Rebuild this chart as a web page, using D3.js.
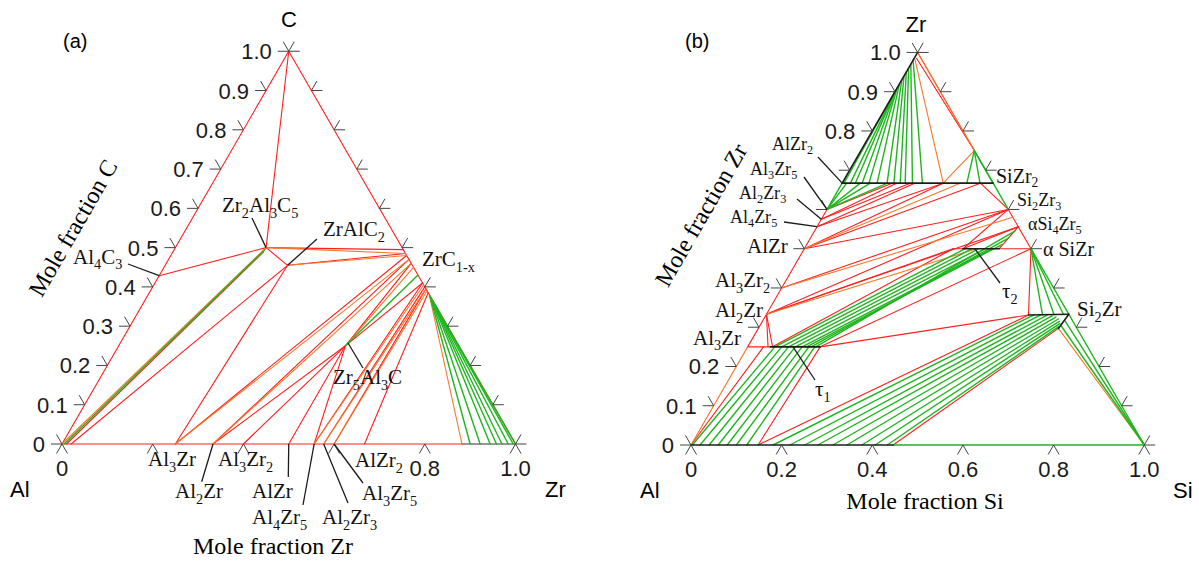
<!DOCTYPE html>
<html><head><meta charset="utf-8">
<script src="https://cdn.jsdelivr.net/npm/d3@7"></script>
<style>body{margin:0;background:#fff}</style>
</head><body>
<svg id="chart" width="1199" height="562"></svg>
<script>
// ================= DATA =================
// Diagram (a) Al–Zr–C : points are [xZr, xC]
const redLinesA = [
  [[0,0],[0,1]], [[0,1],[1,0]], [[0,0],[0.882,0]],
  [[0.2,0.5],[0,1]], [[0,0.4286],[0.2,0.5]], [[0.2,0.5],[0.505,0.495]],
  [[0.2,0.5],[0.27,0.455]], [[0.27,0.455],[0.515,0.485]], [[0.27,0.455],[0.25,0]],
  [[0.27,0.455],[0.02,0]], [[0.25,0],[0.52,0.48]], [[0.333,0],[0.53,0.47]],
  [[0.333,0],[0.5,0.25]], [[0.4,0],[0.5,0.25]], [[0.5,0],[0.5,0.25]],
  [[0.556,0],[0.5,0.25]], [[0.5,0.25],[0.54,0.46]], [[0.5,0.25],[0.59,0.41]],
  [[0.556,0],[0.59,0.41]], [[0.577,0],[0.6,0.4]], [[0.6,0],[0.605,0.395]],
  [[0.667,0],[0.615,0.385]], [[0.01,0],[0.2,0.49]]
];
const orangeLinesA = [
  [[0,0],[0.2,0.5]], [[0.2,0.5],[0.515,0.485]], [[0.27,0.455],[0.52,0.48]],
  [[0.25,0],[0.53,0.47]], [[0.333,0],[0.54,0.46]], [[0.5,0.25],[0.55,0.45]],
  [[0.556,0],[0.595,0.405]], [[0.577,0],[0.605,0.395]], [[0.6,0],[0.61,0.39]],
  [[0.62,0.38],[0.882,0]], [[0.62,0.38],[1,0]]
];
const greenLinesA = [
  [[0.005,0],[0.2,0.495]], [[0.5,0.25],[0.57,0.43]],
  [[0.622,0.378],[0.9,0]], [[0.624,0.376],[0.922,0]], [[0.627,0.373],[0.944,0]],
  [[0.63,0.37],[0.958,0]], [[0.634,0.366],[0.97,0]], [[0.638,0.362],[0.984,0]],
  [[0.643,0.357],[0.995,0]], [[0.648,0.352],[1,0]]
];
const greyLinesA = [[[0.882,0],[1,0]]];
const leftTickValuesA = [0,0.1,0.2,0.3,0.4,0.5,0.6,0.7,0.8,0.9,1.0];
const leftTickLabelsA = ["0","0.1","0.2","0.3","0.4","0.5","0.6","0.7","0.8","0.9","1.0"];
const rightTickValuesA = [0,0.1,0.2,0.3,0.4,0.5,0.6,0.7,0.8,0.9,1.0];
const bottomTickValuesA = [0,0.2,0.4,0.6,0.8,1.0];
const bottomTickLabelsA = ["0","","","","0.8","1.0"];
const phaseNamesA = ["Zr_2Al_3C_5","ZrAlC_2","ZrC_{1-x}","Al_4C_3","Zr_5Al_3C","Al_3Zr","Al_3Zr_2",
                     "Al_2Zr","AlZr","Al_4Zr_5","Al_2Zr_3","Al_3Zr_5","AlZr_2"];
const phaseCompA = [[0.2,0.5],[0.27,0.455],[0.505,0.495],[0,0.4286],[0.5,0.25],[0.25,0],[0.4,0],
                    [0.333,0],[0.5,0],[0.556,0],[0.577,0],[0.6,0],[0.667,0]];

// Diagram (b) Al–Si–Zr : points are [xSi, xZr]
const blackLinesB = [
  [[0,0.667],[0,1]], [[0,0.667],[0.333,0.667]], [[0.05,0.25],[0.16,0.25]],
  [[0.35,0.5],[0.43,0.5]], [[0.579,0.331],[0.667,0.333]], [[0.667,0.333],[0.662,0.297]],
  [[0,0],[0.446,0]]
];
const redLinesB = [
  [[0,0.25],[0,0.6]], [[0,1],[0.25,0.75]], [[0.4,0.6],[0.5,0.5]],
  [[0,0.25],[0.05,0.25]], [[0,0.333],[0.045,0.25]], [[0,0.333],[0.055,0.25]],
  [[0,0],[0.035,0.25]], [[0.148,0],[0.16,0.25]], [[0.148,0],[0.579,0.331]],
  [[0.446,0],[0.662,0.297]], [[0.16,0.25],[0.579,0.331]], [[0.16,0.25],[0.5,0.5]],
  [[0.5,0.5],[0.579,0.331]], [[0.328,0.5],[0.35,0.5]], [[0.43,0.5],[0.5,0.5]],
  [[0.055,0.25],[0.328,0.5]], [[0,0.333],[0.328,0.5]], [[0,0.333],[0.4,0.6]],
  [[0,0.333],[0.444,0.556]], [[0,0.4],[0.4,0.6]], [[0,0.5],[0.4,0.6]],
  [[0,0.5],[0.305,0.667]], [[0,0.5],[0.223,0.667]], [[0,0.556],[0.223,0.667]],
  [[0,0.556],[0.16,0.667]], [[0,0.575],[0.15,0.667]], [[0,0.575],[0.12,0.667]],
  [[0,0.6],[0.11,0.667]], [[0.305,0.667],[0.4,0.6]], [[0.4,0.6],[0.35,0.5]],
  [[0.444,0.556],[0.35,0.5]], [[0.444,0.556],[0.43,0.5]], [[0.005,0.985],[0.25,0.75]]
];
const orangeLinesB = [
  [[0,0],[0,0.25]], [[0.003,0.982],[0.223,0.667]], [[0.25,0.75],[0.223,0.667]],
  [[0.662,0.297],[1,0]], [[0,0.5],[0.26,0.667]], [[0,0.4],[0.42,0.58]],
  [[0,0.333],[0.38,0.5]], [[0,1],[0.25,0.75]]
];
const greenLinesB = [
  [[0,0.6],[0,0.667]], [[0.25,0.75],[0.4,0.6]], [[0.5,0.5],[1,0]], [[0.446,0],[1,0]],
  [[0,0.902],[0.004,0.667]], [[0,0.902],[0.018,0.667]], [[0,0.902],[0.029,0.667]],
  [[0,0.905],[0.044,0.667]], [[0,0.91],[0.059,0.667]], [[0,0.92],[0.077,0.667]],
  [[0,0.93],[0.099,0.667]], [[0,0.94],[0.114,0.667]], [[0,0.95],[0.128,0.667]],
  [[0,0.96],[0.139,0.667]], [[0,0.97],[0.155,0.667]], [[0,0.98],[0.177,0.667]],
  [[0,0.6],[0.01,0.667]], [[0,0.6],[0.04,0.667]], [[0,0.6],[0.062,0.667]], [[0,0.6],[0.1,0.667]],
  [[0.25,0.75],[0.275,0.667]], [[0.25,0.75],[0.304,0.667]], [[0.25,0.75],[0.333,0.667]],
  [[0.003,0],[0.06,0.25]], [[0.02,0],[0.075,0.25]], [[0.04,0],[0.09,0.25]],
  [[0.06,0],[0.105,0.25]], [[0.08,0],[0.12,0.25]], [[0.1,0],[0.135,0.25]], [[0.123,0],[0.148,0.25]],
  [[0.06,0.25],[0.355,0.5]], [[0.075,0.25],[0.37,0.5]], [[0.09,0.25],[0.385,0.5]],
  [[0.105,0.25],[0.4,0.5]], [[0.12,0.25],[0.415,0.5]], [[0.13,0.25],[0.43,0.51]],
  [[0.14,0.25],[0.437,0.527]], [[0.15,0.25],[0.442,0.545]],
  [[0.181,0],[0.59,0.331]], [[0.218,0],[0.605,0.331]], [[0.251,0],[0.62,0.331]],
  [[0.28,0],[0.632,0.329]], [[0.313,0],[0.642,0.326]], [[0.344,0],[0.65,0.321]],
  [[0.377,0],[0.655,0.315]], [[0.406,0],[0.659,0.309]], [[0.433,0],[0.661,0.302]],
  [[0.5,0.5],[0.61,0.331]], [[0.5,0.5],[0.635,0.332]], [[0.5,0.5],[0.655,0.333]],
  [[0.665,0.318],[1,0]], [[0.663,0.305],[1,0]]
];
const leftTickValuesB = [0,0.1,0.2,0.3,0.4,0.5,0.6,0.7,0.8,0.9,1.0];
const leftTickLabelsB = ["0","0.1","0.2","","","","","","0.8","0.9","1.0"];
const rightTickValuesB = [0,0.1,0.2,0.3,0.4,0.5,0.6,0.7,0.8,0.9,1.0];
const bottomTickValuesB = [0,0.2,0.4,0.6,0.8,1.0];
const bottomTickLabelsB = ["0","0.2","0.4","0.6","0.8","1.0"];
const phaseNamesB = ["AlZr_2","Al_3Zr_5","Al_2Zr_3","Al_4Zr_5","AlZr","Al_3Zr_2","Al_2Zr","Al_3Zr",
                     "SiZr_2","Si_2Zr_3","αSi_4Zr_5","α SiZr","τ_2","Si_2Zr","τ_1"];
const phaseCompB = [[0,0.667],[0,0.6],[0,0.575],[0,0.556],[0,0.5],[0,0.4],[0,0.333],[0,0.25],
                    [0.333,0.667],[0.4,0.6],[0.444,0.556],[0.5,0.5],[0.376,0.5],[0.667,0.333],[0.1,0.25]];

// ================= DRAWING =================
const svg = d3.select('#chart');
const SQ = Math.sqrt(3) / 2;
const SANS = '"Liberation Sans", Arial, sans-serif';
const SERIF = '"Liberation Serif", "Times New Roman", serif';
const COL = {red:'#ff1f1f', orange:'#f47a2a', green:'#1fb51f', black:'#1c1c1c', grey:'#777', tick:'#444'};

function makeTernary(x0, base, W) {
  const sx = d3.scaleLinear().domain([0, 1]).range([x0, x0 + W]);
  const sy = d3.scaleLinear().domain([0, 1]).range([base, base - W * SQ]);
  const p = c => [sx(c[0] + c[1] / 2), sy(c[1])];
  return {sx, sy, p};
}
const TA = makeTernary(62, 444, 453.5);
const TB = makeTernary(691, 445, 453.3);

function drawLines(g, T, data, color, w) {
  g.append('g').selectAll('line').data(data).join('line')
    .attr('x1', d => T.p(d[0])[0]).attr('y1', d => T.p(d[0])[1])
    .attr('x2', d => T.p(d[1])[0]).attr('y2', d => T.p(d[1])[1])
    .attr('stroke', color).attr('stroke-width', w).attr('stroke-linecap', 'round');
}

const L = 11;
function tickPath(P, dirs) {
  return dirs.map(d => `M${P[0]},${P[1]}l${d[0] * L},${d[1] * L}`).join('');
}
function drawTicks(g, T, leftVals, rightVals, bottomVals) {
  const tg = g.append('g').attr('fill', 'none').attr('stroke', COL.tick).attr('stroke-width', 1);
  tg.selectAll('path.l').data(leftVals).join('path').attr('class', 'l')
    .attr('d', v => tickPath(T.p([0, v]), [[-1, 0], [-0.5, -SQ]]));
  tg.selectAll('path.r').data(rightVals).join('path').attr('class', 'r')
    .attr('d', v => tickPath(T.p([1 - v, v]), [[1, 0], [0.5, -SQ]]));
  tg.selectAll('path.b').data(bottomVals).join('path').attr('class', 'b')
    .attr('d', v => tickPath(T.p([v, 0]), [[-0.5, SQ], [0.5, SQ]]));
}
function drawTickLabels(g, T, leftVals, leftLabels, bottomVals, bottomLabels) {
  g.append('g').selectAll('text').data(leftVals).join('text')
    .attr('x', v => T.p([0, v])[0] - 17).attr('y', v => T.p([0, v])[1] + 8)
    .attr('text-anchor', 'end').attr('font-family', SANS).attr('font-size', 22).attr('fill', '#1a1a1a')
    .text((v, i) => leftLabels[i]);
  g.append('g').selectAll('text').data(bottomVals).join('text')
    .attr('x', v => T.p([v, 0])[0]).attr('y', v => T.p([v, 0])[1] + 32)
    .attr('text-anchor', 'middle').attr('font-family', SANS).attr('font-size', 22).attr('fill', '#1a1a1a')
    .text((v, i) => bottomLabels[i]);
}
function richText(g, str, x, y, size, subK) {
  const t = g.append('text').attr('x', x).attr('y', y).attr('font-family', SERIF)
    .attr('font-size', size).attr('fill', '#111');
  const re = /_(\{[^}]*\}|[0-9]+)/g;
  let last = 0, m, off = 0;
  const sh = size * (subK || 0.3);
  while ((m = re.exec(str)) !== null) {
    if (m.index > last) { t.append('tspan').attr('dy', -off).text(str.slice(last, m.index)); off = 0; }
    const s = m[1].replace(/[{}]/g, '');
    t.append('tspan').attr('dy', sh - off).attr('font-size', size * 0.68).text(s);
    off = sh;
    last = re.lastIndex;
  }
  if (last < str.length) t.append('tspan').attr('dy', -off).text(str.slice(last));
}
function pointer(g, T, from, comp, toPx) {
  const to = toPx || T.p(comp);
  g.append('line').attr('x1', from[0]).attr('y1', from[1]).attr('x2', to[0]).attr('y2', to[1])
    .attr('stroke', COL.black).attr('stroke-width', 1.3);
}

// ---------- (a) ----------
const gA = svg.append('g');
drawLines(gA, TA, greyLinesA, COL.grey, 1.3);
drawLines(gA, TA, redLinesA, COL.red, 1.1);
drawLines(gA, TA, orangeLinesA, COL.orange, 1.1);
drawLines(gA, TA, greenLinesA, COL.green, 1.4);
drawTicks(gA, TA, leftTickValuesA, rightTickValuesA, bottomTickValuesA);
drawTickLabels(gA, TA, leftTickValuesA, leftTickLabelsA, bottomTickValuesA, bottomTickLabelsA);

const labelPosA = [[222,212],[323,236],[422,266],[73,264],[333,384],[148,466],[218,466],
                   [175,498],[252,498],[252,524],[322,524],[362,500],[355,467]];
const labelSubA = [0.3,0.3,0.3,0.22,0.3,0.3,0.3,0.3,0.3,0.3,0.3,0.3,0.3];
const pointerFromA = [[252,218],[317,239],null,[128,264],[363,368],null,null,
                      [201.7,481.7],[288.3,477],[303,505],[348,503],[363,483],null];
phaseNamesA.forEach((n, i) => {
  if (pointerFromA[i]) {
    const to = i === 4 ? [348, 343] : null;
    pointer(gA, TA, pointerFromA[i], phaseCompA[i], to);
  }
  richText(gA, n, labelPosA[i][0], labelPosA[i][1], 21, labelSubA[i]);
});
gA.append('text').attr('x', 63).attr('y', 48).attr('font-family', SANS).attr('font-size', 20).text('(a)');
gA.append('text').attr('x', 289).attr('y', 27).attr('text-anchor', 'middle').attr('font-family', SANS).attr('font-size', 22).text('C');
gA.append('text').attr('x', 10).attr('y', 497).attr('font-family', SANS).attr('font-size', 22).text('Al');
gA.append('text').attr('x', 545).attr('y', 497).attr('font-family', SANS).attr('font-size', 22).text('Zr');
gA.append('text').attr('x', 273).attr('y', 554).attr('text-anchor', 'middle').attr('font-family', SERIF).attr('font-size', 24).text('Mole fraction Zr');
gA.append('text').attr('transform', 'translate(80,232) rotate(-60)').attr('text-anchor', 'middle').attr('font-family', SERIF).attr('font-size', 24).text('Mole fraction C');

// ---------- (b) ----------
const gB = svg.append('g');
drawLines(gB, TB, redLinesB, COL.red, 1.1);
drawLines(gB, TB, orangeLinesB, COL.orange, 1.1);
drawLines(gB, TB, greenLinesB, COL.green, 1.4);
drawLines(gB, TB, blackLinesB, COL.black, 1.6);
drawTicks(gB, TB, leftTickValuesB, rightTickValuesB, bottomTickValuesB);
drawTickLabels(gB, TB, leftTickValuesB, leftTickLabelsB, bottomTickValuesB, bottomTickLabelsB);

const labelPosB = [[772,150],[750,175],[739,199],[730,223],[747,253],[715,287],[715,317],[693,345],
                   [996,183],[1017,206],[1028,230],[1043,256],[1002,298],[1077,316],[815,396]];
const labelSizeB = [18,18,18,18,21,21,21,21,20,18,18,20,21,21,21];
const labelSubB = [0.2,0.2,0.2,0.2,0.3,0.3,0.3,0.22,0.2,0.2,0.2,0.2,0.3,0.3,0.3];
const pointerFromB = [[818,157],[804,177],[797,199],[784,222],null,null,null,null,
                      null,null,null,null,[1000,283],null,[815,380]];
phaseNamesB.forEach((n, i) => {
  if (pointerFromB[i]) pointer(gB, TB, pointerFromB[i], phaseCompB[i]);
  richText(gB, n, labelPosB[i][0], labelPosB[i][1], labelSizeB[i], labelSubB[i]);
});
gB.append('text').attr('x', 685).attr('y', 48).attr('font-family', SANS).attr('font-size', 20).text('(b)');
gB.append('text').attr('x', 916).attr('y', 32).attr('text-anchor', 'middle').attr('font-family', SANS).attr('font-size', 22).text('Zr');
gB.append('text').attr('x', 640).attr('y', 498).attr('font-family', SANS).attr('font-size', 22).text('Al');
gB.append('text').attr('x', 1173).attr('y', 498).attr('font-family', SANS).attr('font-size', 22).text('Si');
gB.append('text').attr('x', 925).attr('y', 509).attr('text-anchor', 'middle').attr('font-family', SERIF).attr('font-size', 24).text('Mole fraction Si');
gB.append('text').attr('transform', 'translate(708,219) rotate(-60)').attr('text-anchor', 'middle').attr('font-family', SERIF).attr('font-size', 24).text('Mole fraction Zr');
</script>
</body></html>
